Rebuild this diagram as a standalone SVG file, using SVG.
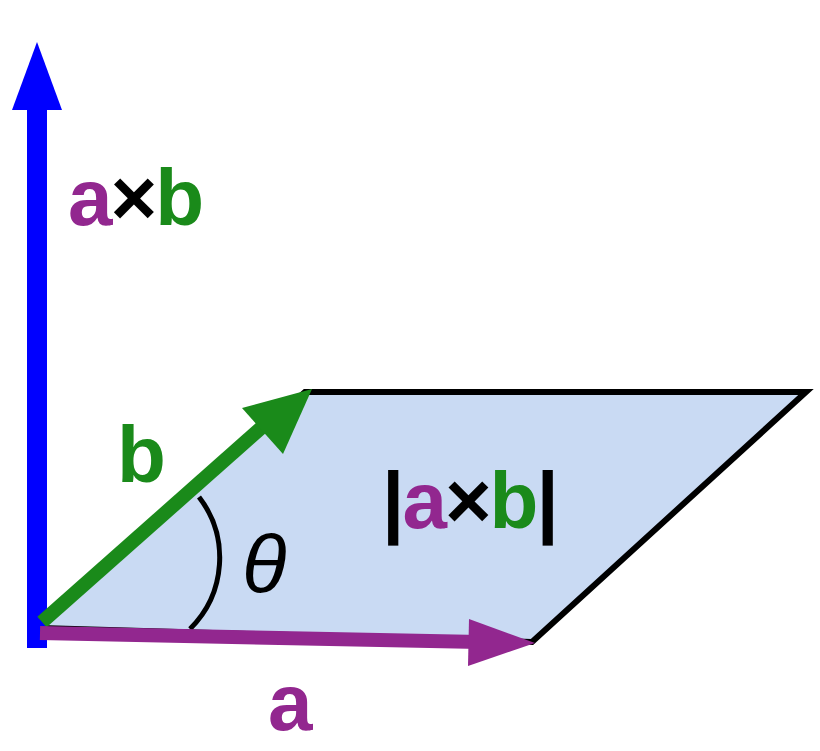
<svg xmlns="http://www.w3.org/2000/svg" width="820" height="751" viewBox="0 0 820 751">
<style>
text{font-family:"Liberation Sans",Arial,sans-serif;font-weight:bold}
text.th{font-weight:normal;font-style:italic}
.p{fill:#92278f}.g{fill:#1a8a1a}.k{fill:#000}
</style>
<rect width="820" height="751" fill="#fff"/>
<g id="plane"><polygon points="40,628 305,392 806,392 532,642" fill="#c9daf3" stroke="#000" stroke-width="6" stroke-linejoin="miter"/></g>
<g id="connectors">
<path d="M190,629 A100,100 0 0 0 199,497" fill="none" stroke="#000" stroke-width="5"/>
<line x1="37" y1="648" x2="37" y2="100" stroke="#0000ff" stroke-width="20"/>
<polygon points="37,42 62,110 12,110" fill="#0000ff"/>
<line x1="42" y1="622" x2="270" y2="420" stroke="#1a8a1a" stroke-width="14"/>
<polygon points="312,389 283,454 242,408" fill="#1a8a1a"/>
<line x1="40" y1="633" x2="480" y2="642" stroke="#92278f" stroke-width="14"/>
<polygon points="535,643 468,666 469,619" fill="#92278f"/>
</g>
<g id="labels">
<text x="68" y="225" font-size="80" letter-spacing="-2"><tspan class="p">a</tspan><tspan class="k">×</tspan><tspan class="g">b</tspan></text>
<text x="117" y="482" font-size="80" class="g">b</text>
<text x="382" y="528" font-size="80" letter-spacing="-2"><tspan class="k">|</tspan><tspan class="p">a</tspan><tspan class="k">×</tspan><tspan class="g">b</tspan><tspan class="k">|</tspan></text>
<text x="242" y="592" font-size="82" class="th k">θ</text>
<text x="268" y="730" font-size="80" class="p">a</text>
</g>
</svg>
